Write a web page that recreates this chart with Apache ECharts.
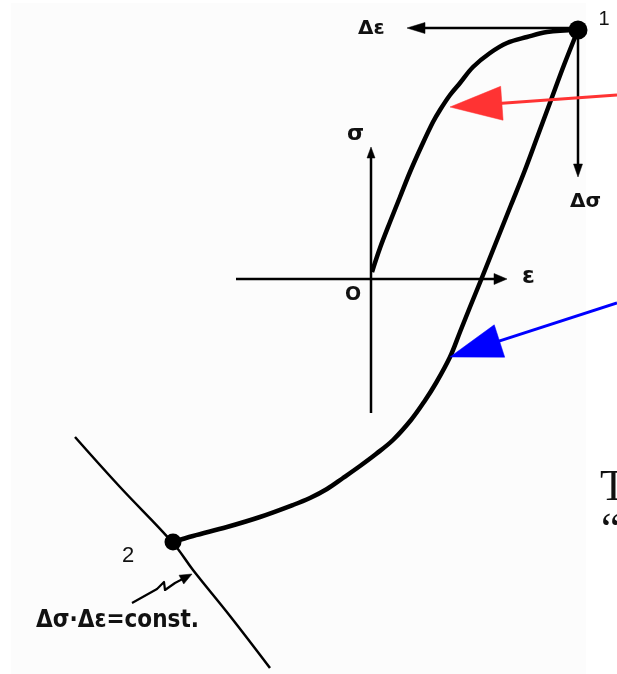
<!DOCTYPE html>
<html>
<head>
<meta charset="utf-8">
<script src="https://cdn.jsdelivr.net/npm/echarts@6/dist/echarts.min.js"></script>
<style>
  html, body { margin: 0; padding: 0; background: #ffffff; }
  #chart { width: 617px; height: 674px; }
</style>
</head>
<body>
<div id="chart"></div>
<script>
// Strain (ε) and stress (σ) in arbitrary units; origin O of the σ–ε axes.
// Loading branch: from O up to state 1
const loadingBranch = [
  [0.1, 0.7], [0.9, 3.1], [1.9, 5.7], [2.9, 8.2], [3.9, 10.7], [5.1, 13.4],
  [6.2, 15.7], [6.9, 16.9], [7.9, 18.4], [8.9, 19.6], [10.2, 21.2],
  [11.9, 22.6], [13.6, 23.6], [15.6, 24.2], [17.6, 24.7], [20.7, 24.9]
];
// Unloading / reversed branch: from state 1 down to state 2
const unloadingBranch = [
  [20.7, 24.9], [19.3, 21.4], [18.0, 17.9], [16.7, 14.4], [15.4, 10.9],
  [14.0, 7.4], [12.6, 3.9], [11.0, -0.1], [9.9, -2.8], [8.9, -5.3],
  [7.9, -7.8], [6.5, -10.4], [5.3, -12.3], [4.0, -14.1], [2.2, -16.1],
  [0.5, -17.5], [-1.1, -18.7], [-2.8, -19.9], [-4.4, -21.0], [-6.1, -21.9],
  [-7.8, -22.6], [-11.1, -23.8], [-14.4, -24.8], [-17.8, -25.7], [-19.8, -26.3]
];
// Curve of constant Δσ·Δε through state 2
const hyperbola = [
  [-29.6, -15.8], [-25.1, -20.8], [-19.8, -26.4], [-17.8, -29.1],
  [-14.1, -33.7], [-10.1, -38.9]
];
// States 1 and 2
const states = [[20.7, 24.9], [-19.8, -26.3]];
const stateNames = ['1', '2'];

// Axes and increments
const epsAxis = [[-13.5, 0], [13.6, 0]];
const sigmaAxis = [[0, -13.4], [0, 13.2]];
const deltaEps = [[20.7, 25.1], [3.6, 25.1]];
const deltaSigma = [[20.7, 24.9], [20.7, 10.2]];
const squiggle = [
  [-23.9, -32.4], [-21.4, -31.0], [-20.7, -30.3], [-20.6, -31.1],
  [-19.6, -30.4], [-17.9, -29.5]
];
// Pointers
const redPointer = [[24.6, 18.4], [7.9, 17.2]];
const bluePointer = [[24.6, -2.4], [7.9, -7.8]];

const chart = echarts.init(document.getElementById('chart'), null, { renderer: 'canvas' });

// Polyline with a filled triangular head at its last point
function arrow(name, pts, opt) {
  return {
    type: 'custom',
    name: name,
    coordinateSystem: 'cartesian2d',
    data: pts,
    silent: true,
    z: opt.z || 3,
    renderItem: function (params, api) {
      if (params.dataIndex !== 0) return;
      const p = pts.map(function (q) { return api.coord(q); });
      const tip = p[p.length - 1];
      const prev = p[p.length - 2];
      const dx = tip[0] - prev[0], dy = tip[1] - prev[1];
      const L = Math.sqrt(dx * dx + dy * dy);
      const ux = dx / L, uy = dy / L;
      const nx = -uy, ny = ux;
      const base = [tip[0] - ux * opt.headLen, tip[1] - uy * opt.headLen];
      const left = [base[0] + nx * opt.headWidth / 2, base[1] + ny * opt.headWidth / 2];
      const right = [base[0] - nx * opt.headWidth / 2, base[1] - ny * opt.headWidth / 2];
      const shaft = p.slice(0, p.length - 1).concat([[tip[0] - ux * opt.headLen * 0.6, tip[1] - uy * opt.headLen * 0.6]]);
      return {
        type: 'group',
        children: [
          { type: 'polyline', shape: { points: shaft },
            style: { stroke: opt.color, lineWidth: opt.width, fill: null, lineJoin: 'round' } },
          { type: 'polygon', shape: { points: [tip, left, right] },
            style: { fill: opt.color, stroke: opt.color, lineWidth: 0.5 } }
        ]
      };
    }
  };
}

const scanFont = '"DejaVu Sans", "Liberation Sans", sans-serif';

chart.setOption({
  animation: false,
  backgroundColor: '#ffffff',
  grid: { left: 0, right: 0, top: 0, bottom: 0 },
  xAxis: { type: 'value', min: -37.1, max: 24.6, show: false },
  yAxis: { type: 'value', min: -39.5, max: 27.9, show: false },
  graphic: [
    { type: 'rect', shape: { x: 11, y: 3, width: 575, height: 671 },
      style: { fill: '#fcfcfc' }, z: -10, silent: true },
    { type: 'text', left: 358, top: 19, style: { text: 'Δε', font: 'bold 20px ' + scanFont, fill: '#111' } },
    { type: 'text', left: 570, top: 192, style: { text: 'Δσ', font: 'bold 20px ' + scanFont, fill: '#111' } },
    { type: 'text', left: 347, top: 123, style: { text: 'σ', font: 'bold 22px ' + scanFont, fill: '#111' } },
    { type: 'text', left: 345, top: 286, style: { text: 'O', font: 'bold 19px ' + scanFont, fill: '#111' } },
    { type: 'text', left: 522, top: 266, style: { text: 'ε', font: 'bold 23px ' + scanFont, fill: '#111' } },
    { type: 'text', left: 36, top: 609, style: { text: 'Δσ·Δε=const.', font: 'bold 24px "DejaVu Sans Condensed", ' + scanFont, fill: '#111' } },
    { type: 'text', left: 600, top: 466, style: { text: 'T', font: '44px "Liberation Serif", serif', fill: '#111' } },
    { type: 'text', left: 601, top: 509, style: { text: '“', font: '44px "Liberation Serif", serif', fill: '#111' } }
  ],
  series: [
    {
      type: 'line', name: 'loading', data: loadingBranch, smooth: 0.35,
      showSymbol: false, silent: true, z: 4,
      lineStyle: { color: '#000', width: 4.5 }
    },
    {
      type: 'line', name: 'unloading', data: unloadingBranch, smooth: 0.35,
      showSymbol: false, silent: true, z: 4,
      lineStyle: { color: '#000', width: 4.5 }
    },
    {
      type: 'line', name: 'const', data: hyperbola, smooth: 0.4,
      showSymbol: false, silent: true, z: 3,
      lineStyle: { color: '#000', width: 2.5 }
    },
    arrow('epsAxis', epsAxis, { color: '#000', width: 2.5, headLen: 13, headWidth: 11 }),
    arrow('sigmaAxis', sigmaAxis, { color: '#000', width: 2.5, headLen: 11, headWidth: 8 }),
    arrow('deltaEps', deltaEps, { color: '#000', width: 2.5, headLen: 18, headWidth: 11 }),
    arrow('deltaSigma', deltaSigma, { color: '#000', width: 2.5, headLen: 13, headWidth: 9 }),
    arrow('squiggle', squiggle, { color: '#000', width: 2.2, headLen: 12, headWidth: 10 }),
    arrow('red', redPointer, { color: '#ff3333', width: 3, headLen: 52, headWidth: 34, z: 6 }),
    arrow('blue', bluePointer, { color: '#0000ff', width: 3, headLen: 52, headWidth: 34, z: 6 }),
    {
      type: 'scatter', name: 'states', silent: true, z: 7,
      data: states.map(function (c, i) {
        return {
          value: c,
          symbolSize: i === 0 ? 19 : 17,
          label: {
            show: true,
            formatter: stateNames[i],
            color: '#111',
            fontFamily: '"Liberation Sans", Arial, sans-serif',
            fontSize: i === 0 ? 20 : 22,
            offset: i === 0 ? [26, -11] : [-45, 14]
          }
        };
      }),
      itemStyle: { color: '#000', opacity: 1 },
      label: { position: 'inside' }
    }
  ]
});
</script>
</body>
</html>
